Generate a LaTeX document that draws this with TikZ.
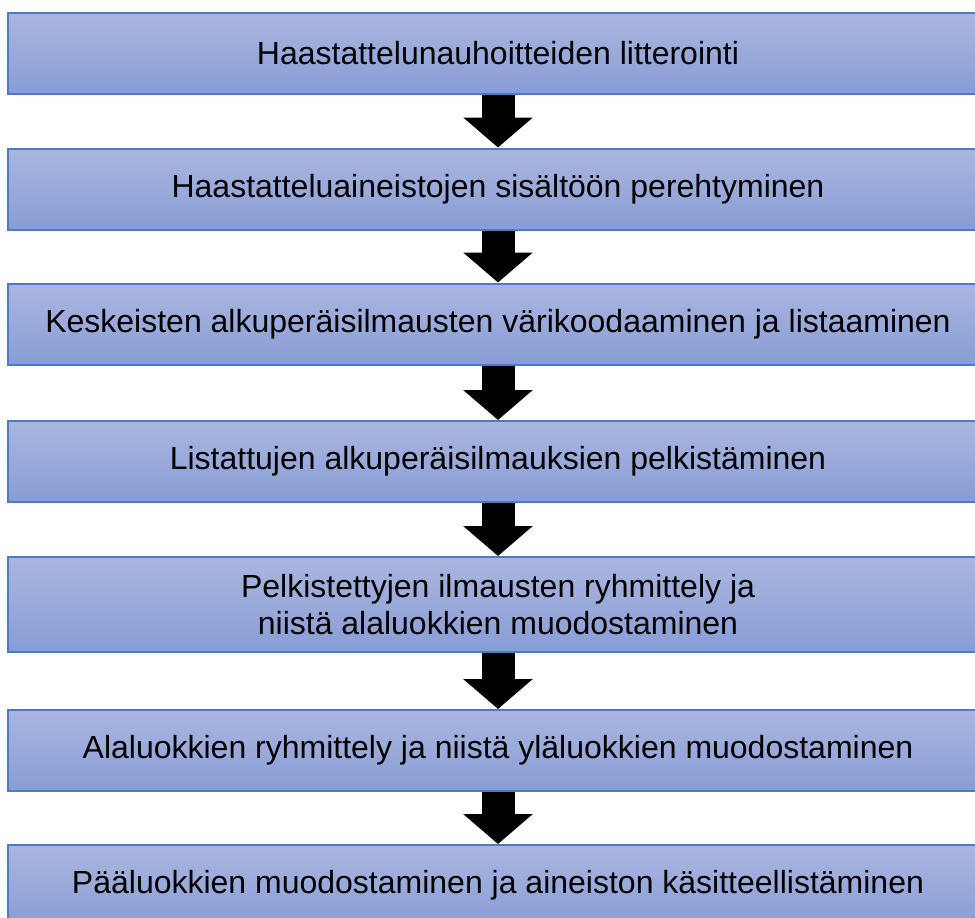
\documentclass[tikz,border=0pt]{standalone}
\usepackage{fontspec}
\setmainfont{Liberation Sans}
\usetikzlibrary{arrows.meta}

\definecolor{boxtop}{RGB}{170,182,223}
\definecolor{boxbottom}{RGB}{136,157,214}
\definecolor{boxline}{RGB}{78,121,199}

\tikzset{
  stage/.style={draw=boxline, line width=2pt, top color=boxtop, bottom color=boxbottom,
    minimum width=980pt, minimum height=81pt, inner sep=0pt, align=center,
    font=\fontsize{32}{37}\selectfont},
  flow/.style={line width=33pt, black, -{Triangle[length=30pt, width=68pt]}}
}

\begin{document}
\begin{tikzpicture}[x=1pt, y=-1pt]
\useasboundingbox (0, 0) rectangle (975, 918);
\node [stage] (litt) at (498, 53.5) {Haastattelunauhoitteiden litterointi};
\node [stage] (pere) at (498, 189) {Haastatteluaineistojen sisältöön perehtyminen};
\node [stage] (vari) at (498, 324) {Keskeisten alkuperäisilmausten värikoodaaminen ja listaaminen};
\node [stage] (pelk) at (498, 461.5) {Listattujen alkuperäisilmauksien pelkistäminen};
\node [stage, minimum height=95pt] (ryhm) at (498, 604.5) {Pelkistettyjen ilmausten ryhmittely ja\\niistä alaluokkien muodostaminen};
\node [stage] (ylal) at (498, 750.5) {Alaluokkien ryhmittely ja niistä yläluokkien muodostaminen};
\node [stage] (paal) at (498, 885.5) {Pääluokkien muodostaminen ja aineiston käsitteellistäminen};
% nuolet
\draw [flow] (litt.south) -- (pere.north);
\draw [flow] (pere.south) -- (vari.north);
\draw [flow] (vari.south) -- (pelk.north);
\draw [flow] (pelk.south) -- (ryhm.north);
\draw [flow] (ryhm.south) -- (ylal.north);
\draw [flow] (ylal.south) -- (paal.north);
\end{tikzpicture}
\end{document}
